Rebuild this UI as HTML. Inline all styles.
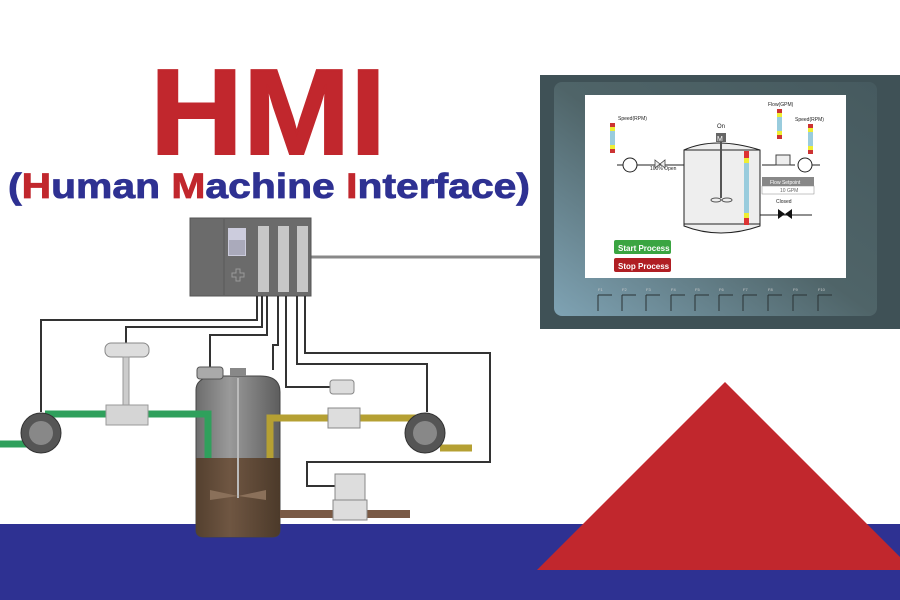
<!DOCTYPE html>
<html><head><meta charset="utf-8"><style>html,body{margin:0;padding:0;background:#fff}svg{display:block}</style></head>
<body>
<svg width="900" height="600" viewBox="0 0 900 600" xmlns="http://www.w3.org/2000/svg" font-family="Liberation Sans, sans-serif">
<defs>
<linearGradient id="pan" x1="0" y1="1" x2="1" y2="0"><stop offset="0" stop-color="#7fa3b4"/><stop offset="0.5" stop-color="#4f6468"/><stop offset="1" stop-color="#465a5f"/></linearGradient>
<linearGradient id="tank" x1="0" x2="1"><stop offset="0" stop-color="#6d6d6d"/><stop offset="0.4" stop-color="#9a9a9a"/><stop offset="1" stop-color="#5d5d5d"/></linearGradient>
<linearGradient id="liq" x1="0" x2="1"><stop offset="0" stop-color="#54402f"/><stop offset="0.4" stop-color="#6f5642"/><stop offset="1" stop-color="#4c3a2a"/></linearGradient>
</defs>
<rect x="0" y="524" width="900" height="76" fill="#2e3192"/>
<polygon points="537,570 725,382 913,570" fill="#c1272d"/>
<text x="150" y="154" font-size="122" font-weight="bold" fill="#c1272d" stroke="#c1272d" stroke-width="2" textLength="236" lengthAdjust="spacingAndGlyphs">HMI</text>
<text x="8" y="198" font-size="35" font-weight="bold" fill="#2e3192" stroke="#2e3192" stroke-width="0.8" textLength="522" lengthAdjust="spacingAndGlyphs">(<tspan fill="#c1272d" stroke="#c1272d">H</tspan>uman <tspan fill="#c1272d" stroke="#c1272d">M</tspan>achine <tspan fill="#c1272d" stroke="#c1272d">I</tspan>nterface)</text>

<!-- HMI panel -->
<rect x="540" y="75" width="360" height="254" fill="#3f5156"/>
<rect x="554" y="82" width="323" height="234" rx="8" fill="url(#pan)"/>
<rect x="585" y="95" width="261" height="183" fill="#fff"/>
<g fill="none" stroke="#2a3335" stroke-width="1">
<path d="M598,295 v16 M598,295 h14 M622,295 v16 M622,295 h14 M646,295 v16 M646,295 h14 M671,295 v16 M671,295 h14 M695,295 v16 M695,295 h14 M719,295 v16 M719,295 h14 M743,295 v16 M743,295 h14 M768,295 v16 M768,295 h14 M793,295 v16 M793,295 h14 M818,295 v16 M818,295 h14"/>
</g>
<g font-size="4" fill="#ccc"><text x="598" y="291">F1</text><text x="622" y="291">F2</text><text x="646" y="291">F3</text><text x="671" y="291">F4</text><text x="695" y="291">F5</text><text x="719" y="291">F6</text><text x="743" y="291">F7</text><text x="768" y="291">F8</text><text x="793" y="291">F9</text><text x="818" y="291">F10</text></g>
<path d="M684,150 Q715,136 760,150 V226 Q720,240 684,226 Z" fill="#eee" stroke="#222" stroke-width="1"/>
<line x1="684" y1="150" x2="760" y2="150" stroke="#222"/><line x1="684" y1="224" x2="760" y2="224" stroke="#222"/>
<rect x="716" y="133" width="10" height="9" fill="#666"/><text x="717" y="141" font-size="7" fill="#fff">M</text>
<text x="717" y="128" font-size="6" fill="#222">On</text>
<line x1="721" y1="142" x2="721" y2="198" stroke="#555" stroke-width="2"/>
<ellipse cx="716" cy="200" rx="5" ry="2" fill="none" stroke="#555"/><ellipse cx="727" cy="200" rx="5" ry="2" fill="none" stroke="#555"/>
<rect x="744" y="151" width="5" height="74" fill="#d33"/><rect x="744" y="158" width="5" height="60" fill="#ee3"/><rect x="744" y="163" width="5" height="50" fill="#9cd"/>
<g fill="#c33"><rect x="610" y="123" width="5" height="30"/><rect x="777" y="109" width="5" height="30"/><rect x="808" y="124" width="5" height="30"/></g>
<g fill="#ee3"><rect x="610" y="127" width="5" height="22"/><rect x="777" y="113" width="5" height="22"/><rect x="808" y="128" width="5" height="22"/></g>
<g fill="#9cd"><rect x="610" y="131" width="5" height="14"/><rect x="777" y="117" width="5" height="14"/><rect x="808" y="132" width="5" height="14"/></g>
<g font-size="5" fill="#222"><text x="618" y="120">Speed(RPM)</text><text x="768" y="106">Flow(GPM)</text><text x="795" y="121">Speed(RPM)</text><text x="650" y="170">100% Open</text><text x="776" y="203">Closed</text></g>
<circle cx="630" cy="165" r="7" fill="none" stroke="#222"/><circle cx="805" cy="165" r="7" fill="none" stroke="#222"/>
<path d="M617,165 H623 M637,165 H684 M795,165 H762 M820,165 H812" stroke="#222"/>
<path d="M655,160 l10,8 v-8 l-10,8 z" fill="#eee" stroke="#444" stroke-width=".8"/>
<rect x="776" y="155" width="14" height="10" fill="#eee" stroke="#444"/>
<rect x="762" y="177" width="52" height="9" fill="#888"/><text x="770" y="184" font-size="5" fill="#fff">Flow Setpoint</text>
<rect x="762" y="186" width="52" height="8" fill="#fff" stroke="#888" stroke-width=".5"/><text x="780" y="192" font-size="5" fill="#666">10 GPM</text>
<path d="M760,215 H812" stroke="#222"/><path d="M778,209 l14,10 v-10 l-14,10 z" fill="#111"/>
<rect x="614" y="240" width="57" height="14" rx="2" fill="#3aa541"/><text x="618" y="251" font-size="8" font-weight="bold" fill="#fff">Start Process</text>
<rect x="614" y="258" width="57" height="14" rx="2" fill="#b01e23"/><text x="618" y="269" font-size="8" font-weight="bold" fill="#fff">Stop Process</text>

<!-- PLC -->
<line x1="311" y1="257" x2="540" y2="257" stroke="#888" stroke-width="3"/>
<rect x="190" y="218" width="121" height="78" fill="#6b6b6b" stroke="#555"/>
<line x1="224" y1="219" x2="224" y2="295" stroke="#5a5a5a"/>
<rect x="228" y="228" width="18" height="28" fill="#ccd"/><rect x="229" y="240" width="16" height="15" fill="#aab"/>
<path d="M232,273 h4 v-4 h4 v4 h4 v4 h-4 v4 h-4 v-4 h-4 z" fill="none" stroke="#999"/>
<rect x="258" y="226" width="11" height="66" fill="#c7c7c7"/><rect x="278" y="226" width="11" height="66" fill="#c7c7c7"/><rect x="297" y="226" width="11" height="66" fill="#c7c7c7"/>
<g fill="none" stroke="#333" stroke-width="2">
<path d="M257,296 V320 H41 V412"/><path d="M262,296 V327 H126 V345"/><path d="M267,296 V335 H210 V368"/>
<path d="M278,296 V345 H273 V370"/><path d="M286,296 V387 H343"/><path d="M297,296 V364 H427 V412"/>
<path d="M305,296 V353 H490 V462 H307 V486 H335"/>
</g>
<!-- tank -->
<path d="M196,390 Q196,376 220,376 H260 Q280,376 280,392 V530 Q280,537 272,537 H204 Q196,537 196,530 Z" fill="url(#tank)" stroke="#444"/>
<path d="M196,458 H280 V530 Q280,537 272,537 H204 Q196,537 196,530 Z" fill="url(#liq)"/>
<!-- pipes -->
<path d="M0,444 H32 M45,414 H208 V458" fill="none" stroke="#2fa05c" stroke-width="7"/>
<path d="M270,458 V418 H420 M440,448 H472" fill="none" stroke="#b5a033" stroke-width="7"/>
<path d="M280,514 H410" stroke="#7a5a45" stroke-width="8"/>
<line x1="238" y1="378" x2="238" y2="498" stroke="#bbb" stroke-width="2"/>
<rect x="230" y="368" width="16" height="8" fill="#888"/>
<path d="M210,490 L238,496 L266,490 L266,500 L238,496 L210,500 Z" fill="#8a705a"/>
<rect x="197" y="367" width="26" height="12" rx="3" fill="#aaa" stroke="#555"/>
<!-- pumps -->
<circle cx="41" cy="433" r="20" fill="#555" stroke="#333"/><circle cx="41" cy="433" r="12" fill="#888"/>
<circle cx="425" cy="433" r="20" fill="#555" stroke="#333"/><circle cx="425" cy="433" r="12" fill="#888"/>
<!-- control valve -->
<rect x="105" y="343" width="44" height="14" rx="6" fill="#ddd" stroke="#888"/>
<rect x="123" y="357" width="6" height="50" fill="#ccc" stroke="#999"/>
<rect x="106" y="405" width="42" height="20" fill="#d5d5d5" stroke="#999"/>
<rect x="330" y="380" width="24" height="14" rx="3" fill="#ddd" stroke="#888"/>
<rect x="328" y="408" width="32" height="20" fill="#ddd" stroke="#888"/>
<rect x="335" y="474" width="30" height="26" fill="#ddd" stroke="#888"/>
<rect x="333" y="500" width="34" height="20" fill="#ddd" stroke="#888"/>
</svg>
</body></html>
